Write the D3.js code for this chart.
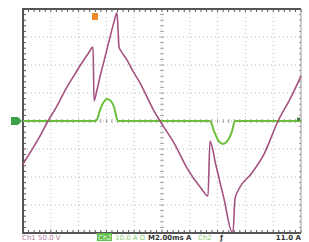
<!DOCTYPE html>
<html>
<head>
<meta charset="utf-8">
<script src="https://cdn.jsdelivr.net/npm/d3@7"></script>
<style>
  html, body { margin: 0; padding: 0; background: #fff; }
  svg { display: block; }
  .lbl { font-family: "DejaVu Sans", sans-serif; font-size: 7px; }
</style>
</head>
<body>
<svg id="scope" width="309" height="242"></svg>
<script>
// Ch1 voltage trace (ms, V)
var ch1Time = [0.00, 0.50, 1.22, 1.80, 2.45, 3.17, 3.74, 4.24, 4.68, 5.04, 5.11, 5.32, 5.54, 5.90, 6.26, 6.55, 6.76,
               6.91, 7.05, 7.48, 7.91, 8.42, 8.92, 9.42, 9.86, 10.14, 10.86, 11.80, 12.81, 13.31, 13.45, 13.88, 14.46,
               15.04, 15.11, 15.25, 15.54, 16.40, 17.34, 18.35, 19.21, 20.00];
var ch1Volts = [-77, -57, -27, 0, 27, 61, 84, 104, 120, 132, 36, 55, 79, 114, 150, 177, 193,
                132, 125, 109, 89, 68, 43, 18, 0, -11, -39, -84, -120, -134, -36, -79, -139,
                -198, -198, -139, -121, -95, -59, 0, 39, 80];

// Ch2 current trace (ms, A)
var ch2Time = [0.00, 5.18, 5.32, 5.54, 5.76, 6.04, 6.33, 6.55, 6.83, 13.45, 13.74, 14.03, 14.39, 14.75, 15.04, 15.25, 20.00];
var ch2Amps = [0, 0, 0.5, 3.9, 6.4, 7.9, 7.1, 5.0, 0, 0, -3.6, -6.8, -8.2, -6.8, -3.6, 0, 0];

// screen settings
var timePerDiv = 2;    // ms
var voltsPerDiv = 50;  // V
var ampsPerDiv = 10;   // A
var hDivs = 10, vDivs = 8;

var svg = d3.select("#scope");
var pLeft = 23, pRight = 301, pTop = 9, pBottom = 233;

var x = d3.scaleLinear().domain([0, hDivs * timePerDiv]).range([pLeft, pRight]);
var yV = d3.scaleLinear().domain([-vDivs / 2 * voltsPerDiv, vDivs / 2 * voltsPerDiv]).range([pBottom, pTop]);
var yA = d3.scaleLinear().domain([-vDivs / 2 * ampsPerDiv, vDivs / 2 * ampsPerDiv]).range([pBottom, pTop]);

var g = svg.append("g");

// dotted grid
g.selectAll(".vgrid")
  .data(d3.range(1, hDivs))
  .enter().append("line")
    .attr("x1", function(d) { return x(d * timePerDiv); })
    .attr("x2", function(d) { return x(d * timePerDiv); })
    .attr("y1", pTop).attr("y2", pBottom)
    .attr("stroke", "#bdbdbd").attr("stroke-width", 1)
    .attr("stroke-dasharray", "1,3");

g.selectAll(".hgrid")
  .data(d3.range(1, vDivs))
  .enter().append("line")
    .attr("y1", function(d) { return yV((d - vDivs / 2) * voltsPerDiv); })
    .attr("y2", function(d) { return yV((d - vDivs / 2) * voltsPerDiv); })
    .attr("x1", pLeft).attr("x2", pRight)
    .attr("stroke", "#bdbdbd").attr("stroke-width", 1)
    .attr("stroke-dasharray", "1,3");

// minor ticks on center cross and frame
var xMinor = d3.range(0, hDivs * 5 + 1).map(function(i) { return i * timePerDiv / 5; });
var yMinor = d3.range(0, vDivs * 5 + 1).map(function(i) { return (i / 5 - vDivs / 2) * voltsPerDiv; });
var cx = x(hDivs / 2 * timePerDiv), cy = yV(0);

g.selectAll(".xt").data(xMinor).enter().append("line")
  .attr("x1", function(d) { return x(d); }).attr("x2", function(d) { return x(d); })
  .attr("y1", cy - 2).attr("y2", cy + 2)
  .attr("stroke", "#8a8a8a").attr("stroke-width", 0.8);
g.selectAll(".yt").data(yMinor).enter().append("line")
  .attr("y1", function(d) { return yV(d); }).attr("y2", function(d) { return yV(d); })
  .attr("x1", cx - 2).attr("x2", cx + 2)
  .attr("stroke", "#8a8a8a").attr("stroke-width", 0.8);
g.selectAll(".xtt").data(xMinor).enter().append("line")
  .attr("x1", function(d) { return x(d); }).attr("x2", function(d) { return x(d); })
  .attr("y1", pTop).attr("y2", pTop + 3)
  .attr("stroke", "#555").attr("stroke-width", 1);
g.selectAll(".xtb").data(xMinor).enter().append("line")
  .attr("x1", function(d) { return x(d); }).attr("x2", function(d) { return x(d); })
  .attr("y1", pBottom - 3).attr("y2", pBottom)
  .attr("stroke", "#555").attr("stroke-width", 1);
g.selectAll(".ytl").data(yMinor).enter().append("line")
  .attr("y1", function(d) { return yV(d); }).attr("y2", function(d) { return yV(d); })
  .attr("x1", pLeft).attr("x2", pLeft + 3)
  .attr("stroke", "#555").attr("stroke-width", 1);
g.selectAll(".ytr").data(yMinor).enter().append("line")
  .attr("y1", function(d) { return yV(d); }).attr("y2", function(d) { return yV(d); })
  .attr("x1", pRight - 2).attr("x2", pRight)
  .attr("stroke", "#999").attr("stroke-width", 1);

// frame
g.append("path")
  .attr("d", "M" + pRight + "," + pTop + "H" + pLeft + "V" + pBottom + "H" + pRight)
  .attr("fill", "none").attr("stroke", "#555").attr("stroke-width", 2);
g.append("line")
  .attr("x1", pRight).attr("x2", pRight).attr("y1", pTop).attr("y2", pBottom)
  .attr("stroke", "#9a9a9a").attr("stroke-width", 1);

// traces
var lineA = d3.line()
  .x(function(d, i) { return x(ch2Time[i]); })
  .y(function(d) { return yA(d); })
  .curve(d3.curveMonotoneX);
g.append("path")
  .attr("d", lineA(ch2Amps))
  .attr("fill", "none").attr("stroke", "#6cbf3a").attr("stroke-width", 2);

var lineV = d3.line()
  .x(function(d, i) { return x(ch1Time[i]); })
  .y(function(d) { return yV(d); })
  .curve(d3.curveMonotoneX);
g.append("path")
  .attr("d", lineV(ch1Volts))
  .attr("fill", "none").attr("stroke", "#a4527f").attr("stroke-width", 1.6);

// ground marker ch2 (left) and trigger markers
g.append("path")
  .attr("d", "M11," + (cy - 4) + "H18L22," + cy + "L18," + (cy + 4) + "H11Z")
  .attr("fill", "#3f9f4a");
g.append("rect")
  .attr("x", 92).attr("y", 13).attr("width", 6).attr("height", 7)
  .attr("fill", "#f0892c");
g.append("rect")
  .attr("x", 297).attr("y", yA(1.2)).attr("width", 3).attr("height", 3)
  .attr("fill", "#3f7f44");

// status line
var ty = 240;
svg.append("text").attr("class", "lbl").attr("x", 22).attr("y", ty)
  .attr("fill", "#b07a9c").text("Ch1  50.0 V");
svg.append("rect").attr("x", 97).attr("y", ty - 7).attr("width", 15).attr("height", 8)
  .attr("fill", "#5fbf4a");
svg.append("text").attr("class", "lbl").attr("x", 98).attr("y", ty)
  .attr("fill", "#e8f5e0").text("Ch2");
svg.append("text").attr("class", "lbl").attr("x", 115).attr("y", ty)
  .attr("fill", "#8fce7a").text("10.0 A Ω");
svg.append("text").attr("class", "lbl").attr("x", 148).attr("y", ty)
  .attr("fill", "#333").attr("font-weight", "bold").text("M2.00ms");
svg.append("text").attr("class", "lbl").attr("x", 186).attr("y", ty)
  .attr("fill", "#333").attr("font-weight", "bold").text("A");
svg.append("text").attr("class", "lbl").attr("x", 198).attr("y", ty)
  .attr("fill", "#8fce7a").text("Ch2");
svg.append("text").attr("class", "lbl").attr("x", 220).attr("y", ty)
  .attr("fill", "#333").attr("font-weight", "bold").text("ƒ");
svg.append("text").attr("class", "lbl").attr("x", 301).attr("y", ty)
  .attr("text-anchor", "end").attr("fill", "#333").attr("font-weight", "bold").text("11.0 A");
</script>
</body>
</html>
